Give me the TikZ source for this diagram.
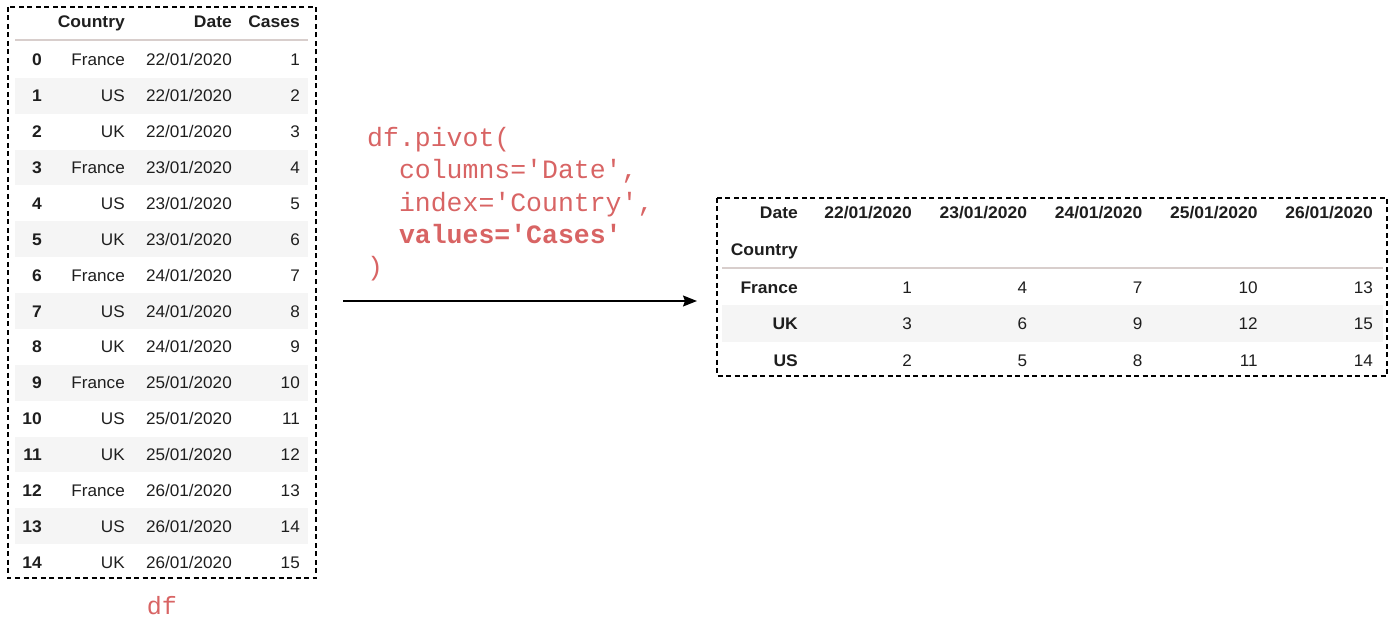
\documentclass[tikz,border=0pt]{standalone}
\usepackage{fontspec}
\newfontfamily\tabf{Liberation Sans}[FakeStretch=1.02,BoldFeatures={FakeStretch=1.04}]
\newfontfamily\codef{Liberation Mono}
\usetikzlibrary{arrows.meta}
\definecolor{codered}{RGB}{216,100,100}
\definecolor{txt}{RGB}{30,30,30}
\definecolor{rule}{RGB}{216,206,204}
\definecolor{stripe}{RGB}{245,245,245}
\tikzset{
  frame/.style={draw=black,line width=1.4pt,dash pattern=on 5pt off 3.5pt},
  cell/.style={anchor=east,inner sep=0pt,text height=12pt,text depth=0pt,text=txt,
    font=\tabf\fontsize{16.8}{18}\selectfont},
  hcell/.style={cell,font=\tabf\bfseries\fontsize{16.8}{18}\selectfont},
  headrule/.style={draw=rule,line width=2pt},
  stripebox/.style={fill=stripe,draw=none},
  code/.style={anchor=north west,inner sep=0pt,align=left,text=codered,
    font=\codef\fontsize{26.5}{32.3}\selectfont},
  arr/.style={line width=1.4pt,-{Stealth[length=14pt,width=11pt,inset=2pt]}}
}
\begin{document}
\begin{tikzpicture}[x=1pt,y=-1pt]
\useasboundingbox (0,0) rectangle (1400,628);
% ---------- left table ----------
\foreach \i in {1,3,...,13}{
  \fill[stripebox] (15,{60+35.86*\i-17.9}) rectangle (308,{60+35.86*\i+17.9});
}
\draw[headrule] (15,40) -- (308,40);
\node[hcell] (lhC) at (125,22) {Country};
\node[hcell] (lhD) at (232,22) {Date};
\node[hcell] (lhK) at (300,22) {Cases};
\foreach \i in {0,...,14}{
  \pgfmathtruncatemacro{\m}{mod(\i,3)}
  \pgfmathtruncatemacro{\d}{22+int(\i/3)}
  \pgfmathtruncatemacro{\c}{\i+1}
  \pgfmathsetmacro{\yy}{60+35.86*\i}
  \ifcase\m \def\cty{France}\or \def\cty{US}\or \def\cty{UK}\fi
  \node[hcell] (li\i) at (42,\yy) {\i};
  \node[cell] (lc\i) at (125,\yy) {\cty};
  \node[cell] (ld\i) at (232,\yy) {\d/01/2020};
  \node[cell] (lk\i) at (300,\yy) {\c};
}
\draw[frame] (8,7) rectangle (316,578);
\node[anchor=center,inner sep=0pt,text=codered,font=\codef\fontsize{25}{30}\selectfont] (dflabel) at (162,606) {df};
% ---------- code ----------
\node[code] (code) at (367,127) {df.pivot(\\
\ \ columns='Date',\\
\ \ index='Country',\\
\ \ \textbf{values='Cases'}\\
)};
% ---------- right table ----------
\fill[stripebox] (722,305) rectangle (1383,342);
\draw[headrule] (722,268) -- (1383,268);
\node[hcell] (rhD) at (798,213) {Date};
\foreach \k in {0,...,4}{
  \pgfmathtruncatemacro{\d}{22+\k}
  \node[hcell] (rh\k) at ({912+115.25*\k},213) {\d/01/2020};
}
\node[hcell] (rhC) at (798,250) {Country};
\node[hcell] (rF) at (798,288) {France};
\node[hcell] (rK) at (798,323) {UK};
\node[hcell] (rS) at (798,360) {US};
\foreach \k in {0,...,4}{
  \pgfmathtruncatemacro{\a}{3*\k+1}
  \pgfmathtruncatemacro{\b}{3*\k+3}
  \pgfmathtruncatemacro{\e}{3*\k+2}
  \node[cell] (vF\k) at ({912+115.25*\k},288) {\a};
  \node[cell] (vK\k) at ({912+115.25*\k},323) {\b};
  \node[cell] (vS\k) at ({912+115.25*\k},360) {\e};
}
\draw[frame] (717,198) rectangle (1387,376);
% ---------- arrow ----------
\coordinate (astart) at (343,301);
\coordinate (aend) at (697,301);
\draw[arr] (astart) -- (aend);
\end{tikzpicture}
\end{document}
